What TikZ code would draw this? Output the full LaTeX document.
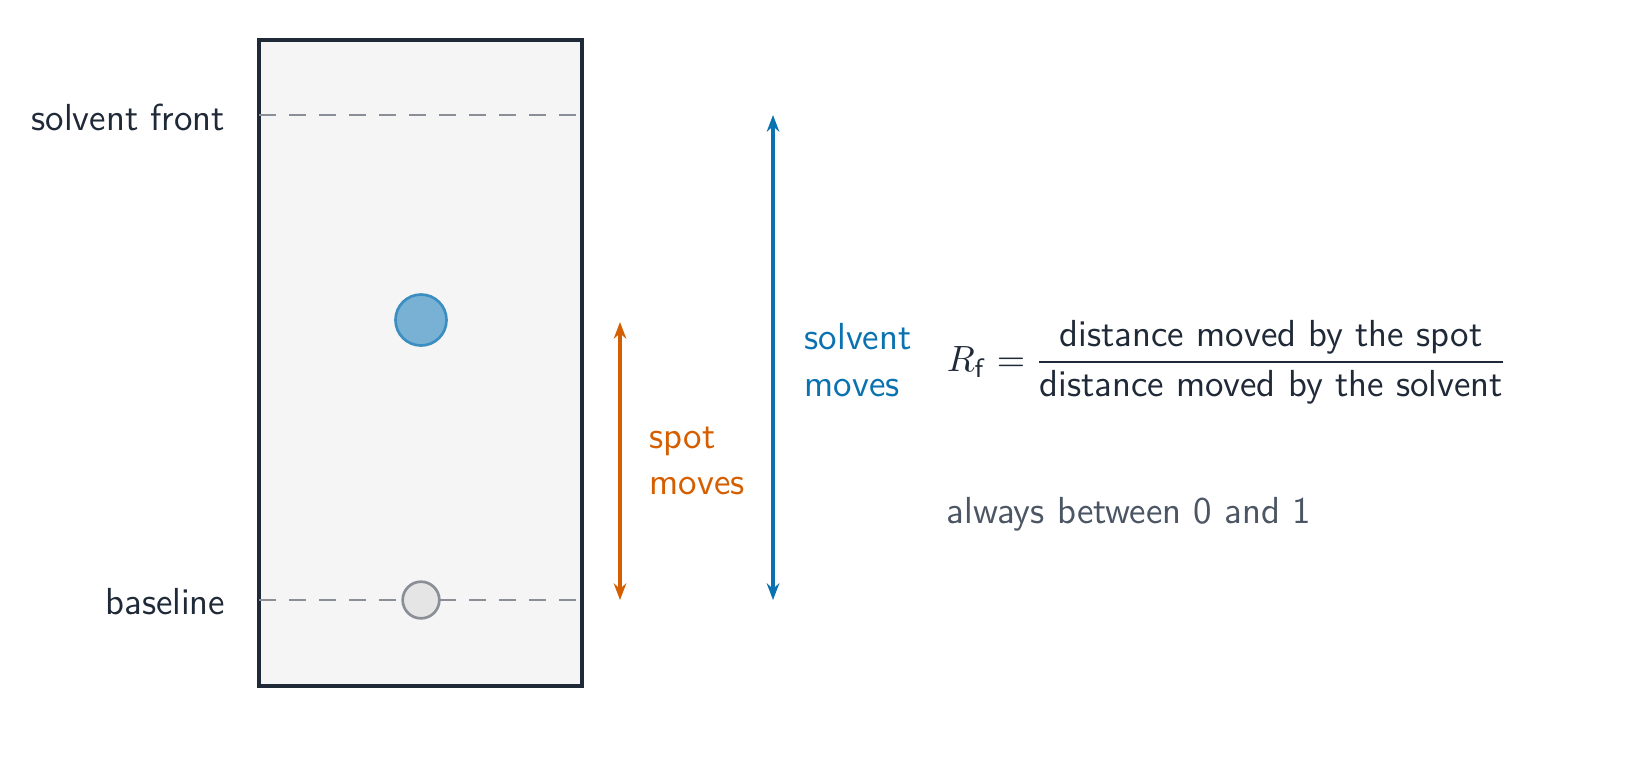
\documentclass[tikz,border=0pt]{standalone}
\usepackage{amsmath}
\usetikzlibrary{arrows.meta, positioning}
\definecolor{ink}{HTML}{1F2937}
\definecolor{plate}{HTML}{F5F5F5}
\definecolor{guide}{HTML}{8A8E97}
\definecolor{solv}{HTML}{0A72B0}
\definecolor{spotc}{HTML}{D55E00}
\definecolor{note}{HTML}{4B5563}
\tikzset{
  lbl/.style = {font=\sffamily\fontsize{11.3}{14}\selectfont, text=ink},
  guideline/.style = {guide, dashed, dash pattern=on 5pt off 4pt, thick},
  mover/.style = {{Stealth[length=5pt]}-{Stealth[length=5pt]}, line width=1.1pt}
}
\begin{document}
\begin{tikzpicture}[x=0.3pt, y=-0.3pt]
    \useasboundingbox (0,0) rectangle (1651,764);
    % plate
    \draw[ink, fill=plate, line width=1.1pt] (259,40) rectangle (582,686);
    \coordinate (fl) at (259,115);  \coordinate (fr) at (582,115);
    \coordinate (bl) at (259,600);  \coordinate (br) at (582,600);
    \draw[guideline] (fl) -- (fr);
    \draw[guideline] (bl) -- (br);
    \node[lbl, anchor=east] (front) at (237,117) {solvent front};
    \node[lbl, anchor=east] (base) at (237,602) {baseline};
    % spots
    \node[circle, minimum size=15.3pt, inner sep=0pt, draw=solv!80, fill=solv!55, thick] (spot) at (421,320) {};
    \node[circle, minimum size=11pt, inner sep=0pt, draw=guide, fill=gray!20, thick] (origin) at (421,600) {};
    % distances
    \coordinate (st) at (620,322); \coordinate (sb) at (620,600);
    \coordinate (vt) at (773,115); \coordinate (vb) at (773,600);
    \draw[mover, spotc] (st) -- (sb);
    \draw[mover, solv] (vt) -- (vb);
    \node[lbl, text=spotc, anchor=west, align=left] (spotlbl) at (638,461) {spot\\moves};
    \node[lbl, text=solv, anchor=west, align=left] (solvlbl) at (793,360) {solvent\\moves};
    % formula
    \node[lbl, anchor=west] (rf) at (935,362)
        {$R_{\mathsf{f}} = \dfrac{\text{\sffamily distance moved by the spot}}{\text{\sffamily distance moved by the solvent}}$};
    \node[lbl, text=note, anchor=west] (range) at (935,514) {always between 0 and 1};
\end{tikzpicture}
\end{document}
